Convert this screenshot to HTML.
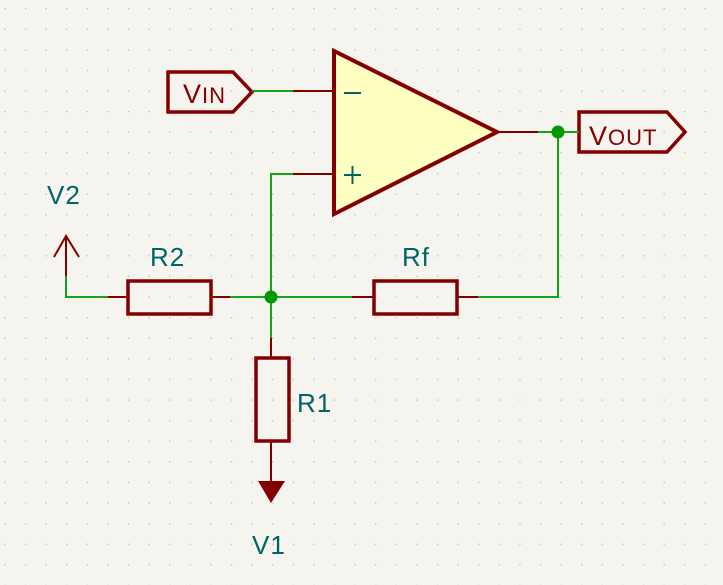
<!DOCTYPE html>
<html><head><meta charset="utf-8"><style>
html,body{margin:0;padding:0;background:#f5f4ef;}
svg{display:block}
text{font-family:"Liberation Sans","DejaVu Sans",sans-serif;}
</style></head><body>
<svg width="723" height="585" viewBox="0 0 723 585" xmlns="http://www.w3.org/2000/svg">
<defs>
<pattern id="g" x="45.5" y="8" width="20.6" height="20.6" patternUnits="userSpaceOnUse">
<rect x="0" y="0" width="1.3" height="1.3" fill="#b8b8b8"/>
</pattern>
</defs>
<rect width="723" height="585" fill="#f5f4ef"/>
<rect width="723" height="585" fill="url(#g)"/>
<polygon points="334,51 334,214 497,132" fill="#ffffc2" stroke="#840000" stroke-width="4" stroke-linejoin="miter"/>
<line x1="344" y1="93" x2="361" y2="93" stroke="#006464" stroke-width="2"/>
<line x1="344" y1="175" x2="361" y2="175" stroke="#006464" stroke-width="2"/>
<line x1="352.5" y1="166" x2="352.5" y2="184" stroke="#006464" stroke-width="2"/>
<g stroke="#840000" stroke-width="2" fill="none">
<line x1="293" y1="91" x2="333" y2="91"/>
<line x1="293" y1="174" x2="333" y2="174"/>
<line x1="498" y1="132" x2="538" y2="132"/>
<line x1="211" y1="297" x2="230" y2="297"/>
<line x1="108" y1="297" x2="128" y2="297"/>
<line x1="352" y1="297" x2="373" y2="297"/>
<line x1="457" y1="297" x2="478" y2="297"/>
<line x1="271" y1="338" x2="271" y2="358"/>
<line x1="271" y1="441" x2="271" y2="482"/>
<line x1="66" y1="236" x2="66" y2="276"/>
<polyline points="54,257 66,236 79,257"/>
</g>
<g stroke="#840000" stroke-width="3.5" fill="none">
<rect x="128" y="281" width="83" height="33"/>
<rect x="374" y="281" width="83" height="33"/>
<rect x="256" y="358" width="33" height="83"/>
<polygon points="168,72 233,72 252,92 233,112 168,112"/>
<polygon points="579,112 667,112 685,132 667,152 579,152"/>
</g>
<polygon points="258,481 285,481 271,503" fill="#840000"/>
<g stroke="#1aa31a" stroke-width="2" fill="none">
<line x1="252" y1="91" x2="293" y2="91"/>
<polyline points="293,174 271,174 271,338"/>
<polyline points="66,276 66,297 108,297"/>
<line x1="230" y1="297" x2="352" y2="297"/>
<polyline points="478,297 558,297 558,132"/>
<line x1="538" y1="132" x2="579" y2="132"/>
</g>
<circle cx="271" cy="297" r="6.5" fill="#009900"/>
<circle cx="558" cy="132" r="6.5" fill="#009900"/>
<g fill="#840000" font-size="27" letter-spacing="1">
<text x="183" y="103">V<tspan font-size="22">IN</tspan></text>
<text x="589" y="145">V<tspan font-size="22">OUT</tspan></text>
</g>
<g fill="#006464" font-size="26" letter-spacing="1">
<text x="47" y="204">V2</text>
<text x="150" y="266">R2</text>
<text x="402" y="266">Rf</text>
<text x="297" y="412">R1</text>
<text x="252" y="554">V1</text>
</g>
</svg>
</body></html>
